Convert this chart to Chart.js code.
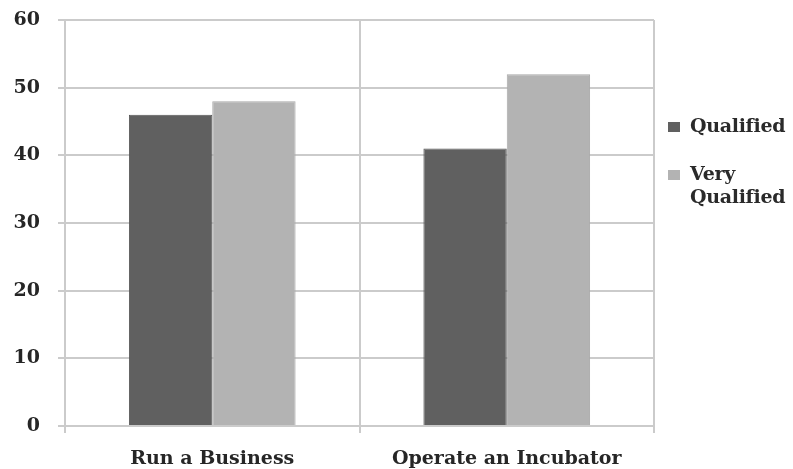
<!DOCTYPE html>
<html>
<head>
<meta charset="utf-8">
<script src="https://cdn.jsdelivr.net/npm/chart.js@4/dist/chart.umd.min.js"></script>
<style>
  html, body { margin: 0; padding: 0; background: #fff; }
  #wrap { position: relative; width: 793px; height: 469px; }
  #legend { position: absolute; left: 668px; top: 114px; font: bold 19px "DejaVu Serif", serif; color: #2a2a2a; letter-spacing: -0.3px; }
  .item { position: relative; padding-left: 22px; line-height: 23px; margin-bottom: 25px; }
  .item span { position: absolute; left: 0; top: 8px; width: 12px; height: 10px; }
</style>
</head>
<body>
<div id="wrap">
  <canvas id="chart" width="793" height="469"></canvas>
  <div id="legend"></div>
</div>
<script>
const categories = ['Run a Business', 'Operate an Incubator'];
const seriesNames = ['Qualified', 'Very Qualified'];
const qualified = [46, 41];
const veryQualified = [48, 52];
const yTicks = [0, 10, 20, 30, 40, 50, 60];

const fills = ['#606060', '#b3b3b3'];
const edges = ['#575757', '#a9a9a9'];
const font = { family: '"DejaVu Serif", serif', weight: 'bold', size: 19 };
const gridColor = '#cbcbcb';

const ctx = document.getElementById('chart').getContext('2d');
new Chart(ctx, {
  type: 'bar',
  data: {
    labels: categories,
    datasets: [
      { label: seriesNames[0], data: qualified, backgroundColor: fills[0], borderColor: edges[0], borderWidth: 1 },
      { label: seriesNames[1], data: veryQualified, backgroundColor: fills[1], borderColor: edges[1], borderWidth: 1 }
    ]
  },
  options: {
    responsive: false,
    animation: false,
    layout: { padding: { top: 20, right: 139, left: 0, bottom: 0 } },
    plugins: { legend: { display: false }, tooltip: { enabled: false } },
    datasets: { bar: { barPercentage: 1, categoryPercentage: 0.566 } },
    scales: {
      x: {
        grid: { color: gridColor, lineWidth: 2, tickLength: 7, offset: true },
        border: { color: gridColor, width: 2 },
        ticks: { color: '#262626', font: font, padding: 15 },
        afterFit: s => { s.height = 43; s.paddingLeft = 0; s.paddingRight = 0; }
      },
      y: {
        min: 0, max: 60,
        afterBuildTicks: s => { s.ticks = yTicks.map(v => ({ value: v })); },
        grid: { color: gridColor, lineWidth: 2, tickLength: 7 },
        border: { color: gridColor, width: 2 },
        ticks: { color: '#262626', font: font, padding: 18 },
        afterFit: s => { s.width = 65; s.paddingTop = 0; s.paddingBottom = 0; }
      }
    }
  }
});

// legend as plain text beside the plot
const legend = document.getElementById('legend');
seriesNames.forEach((name, i) => {
  const d = document.createElement('div');
  d.className = 'item';
  d.innerHTML = `<span style="background:${fills[i]}"></span>${name.replace(' ', '<br>')}`;
  legend.appendChild(d);
});
</script>
</body>
</html>
